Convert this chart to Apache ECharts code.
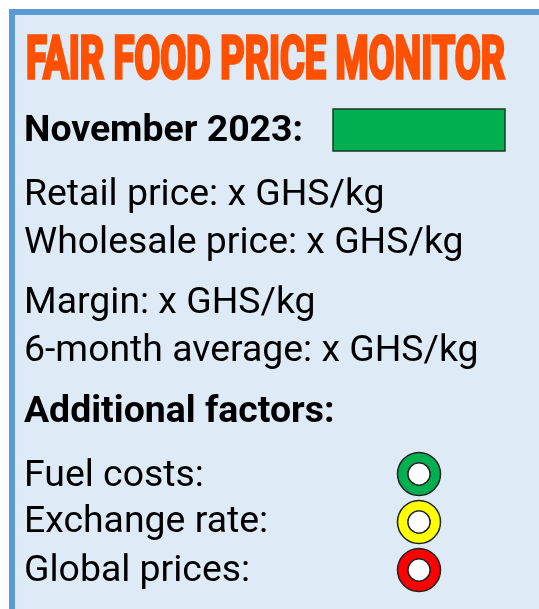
<!DOCTYPE html>
<html>
<head>
<meta charset="utf-8">
<script src="https://cdn.jsdelivr.net/npm/echarts@6/dist/echarts.min.js"></script>
<style>
html, body { margin: 0; padding: 0; background: #ffffff; }
#main { width: 539px; height: 609px; }
</style>
</head>
<body>
<div id="main"></div>
<script>
// content of the monitor card
var title = 'FAIR FOOD PRICE MONITOR';
var monthLabel = 'November 2023:';
var monthStatus = '#00B050';
var priceLines = ['Retail price: x GHS/kg', 'Wholesale price: x GHS/kg'];
var marginLines = ['Margin: x GHS/kg', '6-month average: x GHS/kg'];
var factorsLabel = 'Additional factors:';
var factorNames = ['Fuel costs:', 'Exchange rate:', 'Global prices:'];
var factorColors = ['#00B050', '#FFFF00', '#FF0000'];

var font = 'Roboto, "Noto Sans", sans-serif';
var titleFont = 'bold 60px ' + font;

// squeeze the title to the condensed look of the original
var ctx = document.createElement('canvas').getContext('2d');
ctx.font = titleFont;
var titleW = ctx.measureText(title).width;
var titleScaleX = 479 / titleW;
var titleScaleY = 41.5 / (60 * 0.711);

function line(txt, y, bold) {
    return {
        type: 'text',
        x: 24,
        y: y,
        style: {
            text: txt,
            fill: '#000000',
            font: (bold ? 'bold ' : '') + '37.4px ' + font,
            verticalAlign: 'middle'
        }
    };
}

var elements = [
    {
        type: 'rect',
        shape: { x: 12, y: 12, width: 560, height: 640 },
        style: { fill: '#DEEAF6', stroke: '#5B9BD5', lineWidth: 6 }
    },
    {
        type: 'text',
        x: 26,
        y: 34.5,
        scaleX: titleScaleX,
        scaleY: titleScaleY,
        style: {
            text: title,
            fill: '#FF5000',
            stroke: '#FF5000',
            lineWidth: 3.5,
            font: titleFont,
            verticalAlign: 'top'
        }
    },
    line(monthLabel, 132, true),
    {
        type: 'rect',
        shape: { x: 333, y: 109, width: 172, height: 42 },
        style: { fill: monthStatus, stroke: '#1a3a22', lineWidth: 1.5 }
    },
    line(priceLines[0], 196),
    line(priceLines[1], 244),
    line(marginLines[0], 304),
    line(marginLines[1], 352),
    line(factorsLabel, 413, true)
];

var factorY = [477, 523, 572];
var circleY = [474, 522, 570];
factorNames.forEach(function (name, i) {
    elements.push(line(name, factorY[i]));
    elements.push({
        type: 'ring',
        shape: { cx: 419, cy: circleY[i], r: 21.5, r0: 11 },
        style: { fill: factorColors[i], stroke: '#222222', lineWidth: 1.5 }
    });
    elements.push({
        type: 'circle',
        shape: { cx: 419, cy: circleY[i], r: 11 },
        style: { fill: '#ffffff', stroke: '#222222', lineWidth: 1.2 }
    });
});

var chart = echarts.init(document.getElementById('main'));
chart.setOption({
    animation: false,
    graphic: { elements: elements }
});
</script>
</body>
</html>
